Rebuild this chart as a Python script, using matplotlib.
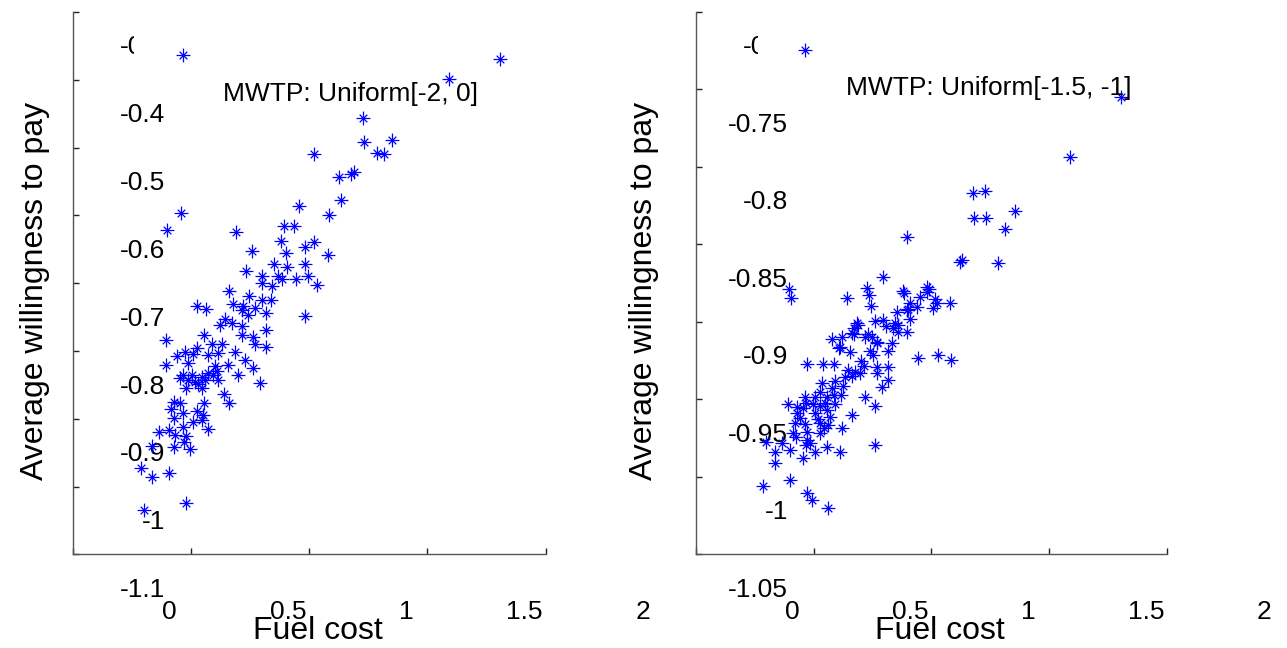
import matplotlib
matplotlib.use("Agg")
import matplotlib.pyplot as plt
from matplotlib.path import Path
from matplotlib.transforms import ScaledTranslation, Bbox

plt.rcParams['font.family'] = ['Liberation Sans', 'DejaVu Sans']

# left panel: MWTP ~ Uniform[-2, 0]
fuel_a = [0.465, 1.807, 1.592, 1.229, 1.232, 1.351, 1.288, 1.316, 1.020, 1.127,
          1.175, 1.189, 1.133, 1.085, 0.958, 0.457, 0.400, 0.690, 0.893, 0.936,
          0.880, 1.020, 0.982, 0.760, 0.903, 1.081, 0.850, 0.982, 0.907, 0.731,
          0.799, 0.869, 0.884, 0.943, 0.996, 1.032, 0.802, 0.841, 0.661, 0.745,
          0.838, 0.799, 0.679, 0.524, 0.562, 0.721, 0.715, 0.771, 0.816, 0.742,
          0.644, 0.672, 0.623, 0.715, 0.982, 0.816, 0.715, 0.764, 0.556, 0.393,
          0.588, 0.630, 0.771, 0.816, 0.686, 0.524, 0.475, 0.440, 0.510, 0.573,
          0.616, 0.729, 0.489, 0.393, 0.602, 0.658, 0.764, 0.454, 0.503, 0.545,
          0.517, 0.573, 0.609, 0.616, 0.700, 0.792, 0.478, 0.545, 0.641, 0.661,
          0.430, 0.454, 0.556, 0.416, 0.468, 0.524, 0.552, 0.430, 0.510, 0.545,
          0.468, 0.571, 0.407, 0.365, 0.433, 0.478, 0.472, 0.334, 0.430, 0.496,
          0.289, 0.337, 0.407, 0.478, 0.303, 0.489, 0.531, 0.468, 0.559, 0.595]
wtp_a = [-0.364, -0.370, -0.399, -0.457, -0.492, -0.489, -0.508, -0.509, -0.509, -0.544,
         -0.539, -0.536, -0.577, -0.599, -0.586, -0.596, -0.621, -0.624, -0.616, -0.616,
         -0.637, -0.639, -0.646, -0.652, -0.656, -0.659, -0.672, -0.672, -0.676, -0.682,
         -0.689, -0.690, -0.694, -0.694, -0.690, -0.703, -0.699, -0.704, -0.712, -0.719,
         -0.725, -0.725, -0.730, -0.734, -0.738, -0.734, -0.739, -0.737, -0.744, -0.747,
         -0.752, -0.758, -0.762, -0.763, -0.749, -0.769, -0.776, -0.779, -0.776, -0.783,
         -0.789, -0.790, -0.790, -0.794, -0.801, -0.796, -0.801, -0.807, -0.804, -0.806,
         -0.803, -0.813, -0.818, -0.821, -0.822, -0.821, -0.825, -0.840, -0.835, -0.838,
         -0.845, -0.833, -0.830, -0.843, -0.835, -0.847, -0.855, -0.855, -0.864, -0.876,
         -0.875, -0.877, -0.877, -0.886, -0.892, -0.889, -0.894, -0.899, -0.904, -0.902,
         -0.912, -0.915, -0.916, -0.919, -0.924, -0.926, -0.934, -0.940, -0.942, -0.945,
         -0.973, -0.985, -0.980, -1.024, -1.034, -0.843, -0.848, -0.835, -0.843, -0.835]

# right panel: MWTP ~ Uniform[-1.5, -1]
fuel_b = [0.464, 1.805, 1.589, 1.176, 1.228, 1.182, 1.231, 1.356, 1.313, 0.896,
          1.122, 1.130, 1.285, 0.797, 0.397, 0.403, 0.644, 0.729, 0.737, 0.743,
          0.879, 0.885, 0.981, 0.992, 0.952, 1.016, 1.023, 1.006, 1.080, 0.910,
          0.938, 0.896, 0.854, 0.910, 0.846, 0.761, 0.797, 0.808, 0.896, 0.860,
          0.690, 0.672, 0.672, 0.733, 0.719, 0.577, 0.620, 0.771, 0.832, 0.610,
          0.655, 0.740, 0.818, 0.754, 0.945, 1.030, 1.083, 0.471, 0.541, 0.589,
          0.701, 0.714, 0.769, 0.818, 0.648, 0.676, 0.698, 0.662, 0.634, 0.769,
          0.592, 0.535, 0.577, 0.627, 0.818, 0.790, 0.528, 0.617, 0.719, 0.761,
          0.556, 0.589, 0.464, 0.507, 0.467, 0.391, 0.429, 0.457, 0.499, 0.528,
          0.549, 0.592, 0.556, 0.429, 0.443, 0.507, 0.521, 0.570, 0.662, 0.422,
          0.464, 0.528, 0.620, 0.546, 0.561, 0.414, 0.471, 0.528, 0.297, 0.365,
          0.425, 0.471, 0.485, 0.467, 0.761, 0.337, 0.400, 0.556, 0.507, 0.613,
          0.457, 0.337, 0.400, 0.287, 0.471, 0.493, 0.563, 0.981, 0.900, 0.860,
          0.684, 0.662, 0.747, 0.839, 0.769, 0.613]
wtp_b = [-0.7245, -0.7546, -0.7934, -0.8166, -0.8153, -0.8331, -0.8331, -0.8284, -0.8402, -0.8454,
         -0.8611, -0.8600, -0.8621, -0.8712, -0.8789, -0.8847, -0.8847, -0.8783, -0.8826, -0.8897,
         -0.8798, -0.8815, -0.8772, -0.8789, -0.8837, -0.8854, -0.8879, -0.8912, -0.8875, -0.8879,
         -0.8905, -0.8923, -0.8934, -0.8983, -0.9005, -0.8992, -0.8987, -0.9026, -0.9063, -0.9063,
         -0.9019, -0.9041, -0.9077, -0.9077, -0.9095, -0.9112, -0.9095, -0.9134, -0.9137, -0.9170,
         -0.9192, -0.9184, -0.9184, -0.9216, -0.9232, -0.9210, -0.9245, -0.9268, -0.9268, -0.9268,
         -0.9250, -0.9284, -0.9290, -0.9290, -0.9310, -0.9324, -0.9331, -0.9348, -0.9353, -0.9331,
         -0.9379, -0.9395, -0.9428, -0.9413, -0.9374, -0.9421, -0.9450, -0.9471, -0.9482, -0.9542,
         -0.9486, -0.9471, -0.9482, -0.9486, -0.9521, -0.9529, -0.9546, -0.9557, -0.9529, -0.9542,
         -0.9525, -0.9529, -0.9568, -0.9589, -0.9621, -0.9589, -0.9628, -0.9611, -0.9600, -0.9654,
         -0.9658, -0.9654, -0.9686, -0.9686, -0.9665, -0.9718, -0.9708, -0.9714, -0.9772, -0.9779,
         -0.9744, -0.9761, -0.9779, -0.9794, -0.9794, -0.9837, -0.9826, -0.9805, -0.9841, -0.9841,
         -0.9879, -0.9912, -1.0019, -1.0058, -1.0101, -1.0148, -1.0202, -0.8805, -0.8918, -0.9019,
         -0.9008, -0.9073, -0.9095, -0.9041, -0.9127, -0.9163]

xticks = [0, 0.5, 1, 1.5, 2]
xtick_labels = ["0", "0.5", "1", "1.5", "2"]
yticks_a = [-1.1, -1.0, -0.9, -0.8, -0.7, -0.6, -0.5, -0.4, -0.3]
ytick_labels_a = ["-1.1", "-1", "-0.9", "-0.8", "-0.7", "-0.6", "-0.5", "-0.4", "-0.3"]
yticks_b = [-1.05, -1.0, -0.95, -0.9, -0.85, -0.8, -0.75, -0.7]
ytick_labels_b = ["-1.05", "-1", "-0.95", "-0.9", "-0.85", "-0.8", "-0.75", "-0.7"]

# matlab-style '*' : a plus with shorter diagonals
d = 0.55
star = Path([(0, -1), (0, 1), (-1, 0), (1, 0), (-d, -d), (d, d), (-d, d), (d, -d)],
            [Path.MOVETO, Path.LINETO] * 4)

fig = plt.figure(figsize=(12.87, 6.48), dpi=100)
ax_a = fig.add_axes([0.0565, 0.1443, 0.3675, 0.8372])
ax_b = fig.add_axes([0.5406, 0.1443, 0.3660, 0.8372])

panels = [
    (ax_a, fuel_a, wtp_a, yticks_a, ytick_labels_a, (-1.1, -0.3), "MWTP: Uniform[-2, 0]", (0.636, -0.4308), -0.048, 134),
    (ax_b, fuel_b, wtp_b, yticks_b, ytick_labels_b, (-1.05, -0.7), "MWTP: Uniform[-1.5, -1]", (0.637, -0.7535), -0.078, 758),
]

# the tick labels sit off their ticks, as in the original export
shift_x = ScaledTranslation(0.97, -0.41, fig.dpi_scale_trans)
shift_y = ScaledTranslation(0.97, -0.33, fig.dpi_scale_trans)

for ax, xs, ys, yt, ytl, ylim, note, note_xy, ylab_x, clip_x in panels:
    ax.plot(xs, ys, ls="none", marker=star, ms=10, mew=0.9, color="#0000ff", clip_on=False)
    ax.set_xlim(0, 2)
    ax.set_ylim(*ylim)
    ax.set_xticks(xticks)
    ax.set_xticklabels(xtick_labels)
    ax.set_yticks(yt)
    ax.set_yticklabels(ytl)
    for s in ("top", "right"):
        ax.spines[s].set_visible(False)
    for s in ("left", "bottom"):
        ax.spines[s].set_color("#555555")
        ax.spines[s].set_linewidth(1.0)
    ax.tick_params(direction="in", length=4.5, width=1.0, color="#222222", labelsize=19, pad=3.5)
    ax.text(note_xy[0], note_xy[1], note, fontsize=19, ha="left", va="baseline")
    ax.set_xlabel("Fuel cost", fontsize=23)
    ax.set_ylabel("Average willingness to pay", fontsize=23)
    ax.xaxis.set_label_coords(0.519, -0.114)
    ax.yaxis.set_label_coords(ylab_x, 0.485)
    for lab in ax.get_xticklabels():
        lab.set_transform(lab.get_transform() + shift_x)
    for lab in ax.get_yticklabels():
        lab.set_transform(lab.get_transform() + shift_y)
    top = ax.get_yticklabels()[-1]
    top.set_clip_on(True)
    top.set_clip_box(Bbox([[0, 0], [clip_x, 648]]))

fig.savefig("out.png", dpi=100)
